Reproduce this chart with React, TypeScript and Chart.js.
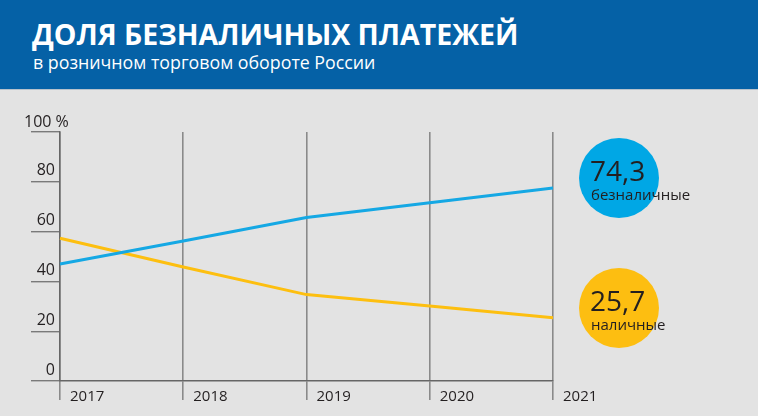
import React, { useEffect, useRef } from "react";
import { Chart, registerables } from "chart.js";

Chart.register(...registerables);

const years = ["2017", "2018", "2019", "2020", "2021"];
const cashless = [47.0, 56.2, 65.7, 71.6, 77.5];
const cash = [57.3, 45.8, 34.7, 30.1, 25.4];
const yTickLabels = ["0", "20", "40", "60", "80", "100 %"];
const calloutValues = ["74,3", "25,7"];
const calloutLabels = ["безналичные", "наличные"];
const calloutColors = ["#00a7e5", "#fdbe11"];
const title = "ДОЛЯ БЕЗНАЛИЧНЫХ ПЛАТЕЖЕЙ";
const subtitle = "в розничном торговом обороте России";

const FONT = "'Open Sans', 'Noto Sans', sans-serif";
const TEXT = "#231f20";

const labelPlugin = {
  id: "axisLabels",
  afterDraw(chart: any) {
    const ctx = chart.ctx;
    const xs = chart.scales.x;
    const ys = chart.scales.y;
    ctx.save();
    ctx.fillStyle = TEXT;
    ctx.font = `15px ${FONT}`;
    ctx.textBaseline = "alphabetic";
    ctx.textAlign = "left";
    years.forEach((lab, i) => {
      ctx.fillText(lab, xs.getPixelForTick(i) + 10, xs.top + 20);
    });
    ctx.font = `16px ${FONT}`;
    ys.ticks.forEach((t: any, i: number) => {
      const py = ys.getPixelForValue(t.value);
      const lab = yTickLabels[i] ?? String(t.value);
      if (i === ys.ticks.length - 1) {
        ctx.textAlign = "left";
        ctx.fillText(lab, ys.left - 7, py - 5);
      } else {
        ctx.textAlign = "right";
        ctx.fillText(lab, ys.right - 5, py - 6.5);
      }
    });
    ctx.restore();
  },
};

function LineChart() {
  const ref = useRef<HTMLCanvasElement>(null);
  useEffect(() => {
    if (!ref.current) return;
    const chart = new Chart(ref.current, {
      type: "line",
      data: {
        labels: years,
        datasets: [
          {
            label: "безналичные",
            data: cashless,
            borderColor: "#15a8e4",
            borderWidth: 3,
            pointRadius: 0,
            tension: 0,
          },
          {
            label: "наличные",
            data: cash,
            borderColor: "#fdbf10",
            borderWidth: 3,
            pointRadius: 0,
            tension: 0,
          },
        ],
      },
      options: {
        animation: false,
        responsive: true,
        maintainAspectRatio: false,
        layout: { padding: { top: 132, left: 31, right: 205, bottom: 16 } },
        plugins: { legend: { display: false }, tooltip: { enabled: false } },
        scales: {
          x: {
            type: "category",
            offset: false,
            grid: {
              display: true,
              drawOnChartArea: true,
              drawTicks: true,
              tickLength: 19,
              color: "#8a8a8a",
              lineWidth: 1.6,
            },
            border: { display: true, color: "#666666", width: 1.5 },
            ticks: { display: false },
          },
          y: {
            min: 0,
            max: 100,
            ticks: { display: false, stepSize: 20 },
            grid: {
              drawOnChartArea: false,
              drawTicks: true,
              tickLength: 29,
              color: "#7a7a7a",
              lineWidth: 1.4,
            },
            border: { display: true, color: "#666666", width: 1.5 },
          },
        },
      },
      plugins: [labelPlugin],
    });
    return () => chart.destroy();
  }, []);
  return <canvas ref={ref} />;
}

export default function App() {
  const circleTops = [138, 268];
  return (
    <div
      style={{
        position: "absolute",
        left: 0,
        top: 0,
        width: 758,
        height: 416,
        background: "#e3e3e3",
        overflow: "hidden",
        fontFamily: FONT,
      }}
    >
      <div
        style={{
          position: "absolute",
          left: 0,
          top: 0,
          width: 758,
          height: 89,
          background: "#0561a6",
          borderBottom: "1px solid #b7c2cc",
        }}
      >
        <div
          style={{
            position: "absolute",
            left: 32,
            top: 12,
            color: "#ffffff",
            fontWeight: 700,
            fontSize: 28.5,
            lineHeight: "44px",
            whiteSpace: "nowrap",
          }}
        >
          {title}
        </div>
        <div
          style={{
            position: "absolute",
            left: 33,
            top: 49,
            color: "#ffffff",
            fontSize: 17.8,
            lineHeight: "26px",
            whiteSpace: "nowrap",
          }}
        >
          {subtitle}
        </div>
      </div>
      <div style={{ position: "absolute", left: 0, top: 0, width: 758, height: 416 }}>
        <LineChart />
      </div>
      {calloutValues.map((v, i) => (
        <React.Fragment key={i}>
          <div
            style={{
              position: "absolute",
              left: 579,
              top: circleTops[i],
              width: 80,
              height: 80,
              borderRadius: "50%",
              background: calloutColors[i],
            }}
          />
          <div
            style={{
              position: "absolute",
              left: 590,
              top: circleTops[i] + 14,
              color: TEXT,
              fontSize: 28,
              lineHeight: "36px",
              whiteSpace: "nowrap",
            }}
          >
            {v}
          </div>
          <div
            style={{
              position: "absolute",
              left: 591,
              top: circleTops[i] + 46,
              color: TEXT,
              fontSize: 15,
              lineHeight: "20px",
              whiteSpace: "nowrap",
            }}
          >
            {calloutLabels[i]}
          </div>
        </React.Fragment>
      ))}
    </div>
  );
}
